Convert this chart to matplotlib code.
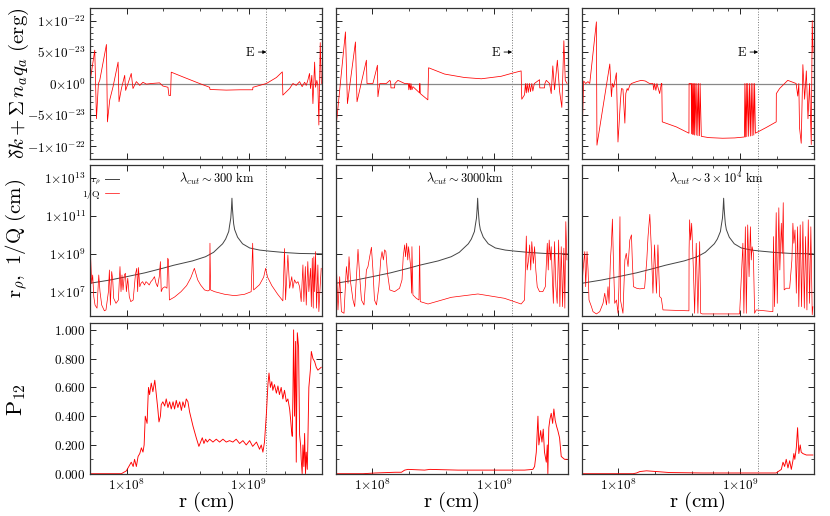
import numpy as np
import matplotlib
matplotlib.use('Agg')
import matplotlib.pyplot as plt
from matplotlib.ticker import FixedLocator, FixedFormatter, NullFormatter, NullLocator, MultipleLocator

plt.rcParams['mathtext.fontset'] = 'cm'
plt.rcParams['font.family'] = 'serif'
plt.rcParams['xtick.direction'] = 'in'
plt.rcParams['ytick.direction'] = 'in'
plt.rcParams['xtick.top'] = True
plt.rcParams['ytick.right'] = True

# ---- row 1 : dk + sum n q  (units of 1e-23 erg) ----
r_dk1 = [4.98e7, 5.47e7, 5.65e7, 5.86e7, 6.01e7, 6.82e7, 6.95e7, 7.26e7, 7.73e7, 8.50e7, 8.65e7, 9.05e7, 9.63e7, 9.80e7,
         1.025e8, 1.09e8, 1.126e8, 1.20e8, 1.28e8, 1.36e8, 1.45e8, 1.59e8, 1.86e8, 1.98e8, 2.18e8, 2.22e8, 2.29e8, 2.32e8,
         2.89e8, 3.96e8, 4.79e8, 4.82e8, 6.56e8, 8.5e8, 1.08e9, 1.085e9, 1.40e9, 1.69e9, 1.89e9, 1.91e9, 2.17e9, 2.31e9,
         2.46e9, 2.62e9, 2.75e9, 2.88e9, 2.97e9, 3.06e9, 3.16e9, 3.22e9, 3.30e9, 3.37e9, 3.48e9, 3.54e9, 3.63e9, 3.70e9,
         3.77e9, 3.87e9, 3.95e9]
dk1 = [0.0, 5.3, -5.6, 0.0, 0.5, 6.2, -6.1, -2.6, -0.5, 3.4, -2.9, -0.8, 1.3, -1.1,
       0.0, 1.6, -0.8, 0.3, -0.3, 0.2, -0.1, 0.0, 0.1, -0.4, -0.6, -1.9, -1.9, 1.8,
       1.05, 0.0, -0.6, -0.95, -1.05, -1.0, -1.0, -0.6, 0.0, 0.95, 1.85, -1.85, -0.8, 0.0,
       -0.3, 0.3, -0.5, 0.2, -0.3, 0.5, 1.6, -0.8, 1.3, -3.2, 3.4, -0.6, 0.5, -0.3,
       -6.6, 6.5, 0.0]

r_dk2 = [4.98e7, 5.07e7, 6.01e7, 6.24e7, 7.26e7, 7.48e7, 8.93e7, 9.03e7, 1.01e8, 1.10e8, 1.11e8, 1.15e8, 1.30e8, 1.39e8,
         1.41e8, 1.42e8, 1.52e8, 1.53e8, 1.62e8, 1.84e8, 1.97e8, 1.99e8, 2.01e8, 2.05e8, 2.07e8, 2.11e8, 2.15e8, 2.44e8,
         2.45e8, 2.47e8, 2.85e8, 2.89e8, 3.91e8, 5.70e8, 7.83e8, 1.14e9, 1.38e9, 1.66e9, 1.68e9, 1.77e9, 1.80e9, 1.83e9,
         1.86e9, 1.90e9, 1.94e9, 1.98e9, 2.03e9, 2.07e9, 2.13e9, 2.35e9, 2.36e9, 2.58e9, 2.60e9, 2.67e9, 2.84e9, 2.93e9,
         3.02e9, 3.12e9, 3.29e9, 3.43e9, 3.58e9, 3.72e9, 3.82e9, 3.95e9]
dk2 = [-5.0, -6.3, 8.2, -3.2, 6.6, -2.9, 3.7, 0.0, 0.0, 2.9, -2.1, 0.0, 0.0, 0.5,
       0.3, -0.7, -0.7, 0.0, 0.5, 0.0, 0.0, -1.0, 0.0, -1.0, 0.0, -1.0, -0.5, -1.5,
       0.0, -1.6, -2.6, 2.5, 1.5, 0.95, 0.75, 1.15, 1.6, 2.0, -2.5, -1.8, 0.0, -1.5,
       0.0, -1.4, 0.0, -1.3, 0.0, -1.2, 0.0, 0.6, -0.7, -0.7, 0.0, 0.5, 0.0, -1.6,
       2.8, -1.0, 3.7, -1.2, -3.8, 6.8, 0.5, 0.0]

r_dk3 = [4.98e7, 5.19e7, 5.39e7, 5.63e7, 5.82e7, 6.60e7, 6.67e7, 8.50e7, 8.77e7, 8.93e7, 9.15e7, 9.63e7, 9.92e7, 1.01e8,
         1.04e8, 1.06e8, 1.09e8, 1.13e8, 1.15e8, 1.18e8, 1.20e8, 1.24e8, 1.28e8, 1.41e8, 1.54e8, 1.66e8, 1.80e8, 1.92e8,
         1.95e8, 1.98e8, 2.03e8, 2.07e8, 2.18e8, 2.25e8, 2.27e8, 2.29e8, 2.99e8, 3.79e8, 3.80e8, 3.96e8, 3.98e8, 4.02e8,
         4.06e8, 4.10e8, 4.14e8, 4.18e8, 4.22e8, 4.26e8, 4.35e8, 4.40e8, 4.49e8, 4.53e8, 4.63e8, 4.68e8, 4.79e8, 5.5e8,
         7.16e8, 9.0e8, 1.08e9, 1.09e9, 1.10e9, 1.12e9, 1.13e9, 1.15e9, 1.17e9, 1.19e9, 1.21e9, 1.23e9, 1.25e9, 1.27e9,
         1.29e9, 1.31e9, 1.33e9, 1.63e9, 1.97e9, 1.975e9, 2.10e9, 2.45e9, 2.87e9, 2.96e9, 3.02e9, 3.06e9, 3.16e9, 3.26e9,
         3.37e9, 3.48e9, 3.59e9, 3.70e9, 3.82e9, 3.89e9, 3.95e9]
dk3 = [-11.6, 0.4, 0.0, 0.3, 0.0, 9.8, -9.8, 3.1, -2.1, 0.0, -0.6, 1.7, -9.3, -6.9,
       -2.6, -0.8, -0.9, -6.3, -1.6, -0.8, -1.1, -0.3, 0.0, 0.3, 0.5, 0.4, 0.0, 0.0,
       -1.0, 0.0, -1.1, 0.0, -1.6, 0.0, 0.0, -6.1, -6.9, -7.9, 0.0, 0.0, -8.0, 0.0,
       -8.1, 0.0, -8.1, 0.0, -8.2, 0.0, -8.2, 0.0, -8.3, 0.0, -8.3, 0.0, -8.4, -8.6,
       -8.7, -8.65, -8.5, 0.0, -8.5, 0.0, -8.45, 0.0, -8.4, 0.0, -8.35, 0.0, -8.3, 0.0,
       -8.2, 0.0, -7.9, -7.0, -6.1, -1.6, -0.8, 0.5, 0.0, -2.0, 0.0, -7.0, -9.5, 3.0,
       -2.5, 2.0, -5.6, 0.0, -9.7, 10.0, 5.0]

# ---- row 2 : r_rho (same in every column) and 1/Q ----
r_rho = [4.98e7, 7.26e7, 1.0e8, 1.41e8, 1.97e8, 2.43e8, 3.47e8, 4.43e8, 5.16e8, 5.67e8, 6.12e8, 6.48e8, 6.87e8, 6.98e8,
         7.14e8, 7.23e8, 7.30e8, 7.37e8, 7.47e8, 7.54e8, 7.68e8, 8.12e8, 8.92e8, 1.02e9, 1.23e9, 1.49e9, 1.97e9, 2.62e9,
         3.96e9]
rho = [2.95e7, 4.37e7, 6.6e7, 1.05e8, 1.82e8, 2.63e8, 4.47e8, 7.4e8, 1.26e9, 2.24e9, 3.55e9, 6.3e9, 1.58e10, 3.2e10,
       7.9e10, 2.5e11, 8.9e11, 2.5e11, 7.9e10, 4.0e10, 2.0e10, 7.9e9, 3.55e9, 2.14e9, 1.66e9, 1.45e9, 1.23e9, 1.1e9,
       1.05e9]

r_q1 = [4.98e7, 5.04e7, 5.16e7, 5.26e7, 5.37e7, 5.50e7, 5.71e7, 5.90e7, 6.04e7, 6.24e7,
        6.56e7, 6.76e7, 7.08e7, 7.21e7, 7.35e7, 7.53e7, 7.68e7, 7.82e7, 8.17e7, 8.55e7,
        8.81e7, 8.98e7, 9.15e7, 9.33e7, 9.57e7, 9.76e7, 9.94e7, 1.02e8, 1.05e8, 1.08e8,
        1.13e8, 1.18e8, 1.21e8, 1.23e8, 1.25e8, 1.28e8, 1.31e8, 1.35e8, 1.40e8, 1.44e8,
        1.49e8, 1.53e8, 1.58e8, 1.63e8, 1.69e8, 1.74e8, 1.79e8, 1.85e8, 1.89e8, 1.92e8,
        1.97e8, 2.06e8, 2.14e8, 2.17e8, 2.20e8, 2.24e8, 2.47e8, 2.79e8, 3.10e8, 3.35e8,
        3.59e8, 3.82e8, 4.04e8, 4.35e8, 4.64e8, 4.79e8, 4.82e8, 4.88e8, 5.26e8, 6.35e8,
        7.68e8, 9.27e8, 1.05e9, 1.08e9, 1.10e9, 1.23e9, 1.33e9, 1.38e9, 1.43e9, 1.55e9,
        1.73e9, 1.91e9, 1.97e9, 2.01e9, 2.10e9, 2.17e9, 2.26e9, 2.31e9, 2.38e9, 2.46e9,
        2.54e9, 2.62e9, 2.70e9, 2.79e9, 2.84e9, 2.92e9, 2.97e9, 3.06e9, 3.12e9, 3.22e9,
        3.27e9, 3.33e9, 3.39e9, 3.43e9, 3.48e9, 3.54e9, 3.61e9, 3.70e9, 3.77e9, 3.84e9,
        3.94e9]
q1 = [2.5e7, 1.38e9, 2.95e7, 8.1e7, 5.9e6, 2.1e6, 1.45e6, 8.1e7, 1.07e7, 2.1e6,
      1.05e6, 1.17e6, 1.07e7, 1.48e8, 2.1e6, 1.23e8, 4.5e7, 4.8e6, 2.6e6, 3.9e6,
      2.24e8, 1.07e7, 8.1e7, 1.32e7, 8.1e7, 1.0e8, 1.07e7, 5.5e7, 5.9e6, 3.2e6,
      3.9e6, 8.9e7, 1.82e8, 1.07e7, 2.0e8, 1.95e7, 2.95e7, 3.6e7, 2.4e7, 3.6e7,
      2.95e7, 2.4e7, 3.6e7, 4.5e7, 6.6e7, 2.95e7, 1.95e7, 6.6e7, 4.1e8, 1.07e7,
      1.62e7, 1.95e7, 1.62e7, 6.2e8, 5.0e8, 3.9e6, 5.6e6, 1.07e7, 2.24e7, 5.6e7,
      1.82e8, 4.5e7, 2.4e7, 1.32e7, 1.17e7, 1.32e7, 3.8e9, 1.32e7, 1.07e7, 7.8e6,
      6.6e6, 7.8e6, 1.07e7, 3.8e9, 1.32e7, 2.5e7, 6.3e7, 1.82e8, 6.3e7, 2.24e7,
      7.9e6, 3.5e6, 2.0e9, 4.0e6, 9.1e8, 1.62e7, 6.6e7, 1.62e7, 4.5e7, 2.95e7,
      3.6e7, 1.95e7, 3.2e6, 2.75e8, 3.2e6, 2.24e8, 2.1e6, 4.1e8, 1.07e7, 1.82e8,
      1.74e6, 6.2e8, 1.45e6, 7.4e8, 1.07e7, 1.38e9, 1.45e6, 2.75e8, 9.5e5, 1.07e7,
      1.82e8]

r_q2 = [4.98e7, 5.07e7, 5.22e7, 5.39e7, 5.57e7, 5.85e7, 6.12e7, 6.31e7, 6.43e7, 6.64e7,
        6.93e7, 7.16e7, 7.62e7, 7.87e7, 8.13e7, 8.53e7, 8.93e7, 9.20e7, 9.50e7, 9.82e7,
        1.01e8, 1.04e8, 1.08e8, 1.13e8, 1.17e8, 1.20e8, 1.23e8, 1.26e8, 1.29e8, 1.33e8,
        1.39e8, 1.52e8, 1.67e8, 1.75e8, 1.79e8, 1.84e8, 1.87e8, 1.91e8, 1.95e8, 1.98e8,
        2.02e8, 2.06e8, 2.10e8, 2.11e8, 2.15e8, 2.29e8, 2.41e8, 2.44e8, 2.47e8, 2.86e8,
        4.44e8, 7.34e8, 1.21e9, 1.66e9, 1.77e9, 1.83e9, 1.86e9, 1.91e9, 1.95e9, 1.99e9,
        2.03e9, 2.09e9, 2.14e9, 2.19e9, 2.25e9, 2.35e9, 2.50e9, 2.62e9, 2.72e9, 2.77e9,
        2.82e9, 2.88e9, 2.93e9, 2.99e9, 3.05e9, 3.12e9, 3.20e9, 3.28e9, 3.37e9, 3.45e9,
        3.54e9, 3.63e9, 3.72e9, 3.79e9, 3.86e9, 3.94e9]
q2 = [1.48e8, 2.24e8, 1.17e6, 6.6e7, 9.5e5, 7.8e5, 2.24e8, 2.95e7, 7.4e8, 2.95e7,
      3.9e6, 1.74e6, 1.82e9, 6.6e7, 3.9e6, 2.14e6, 1.48e8, 2.24e8, 7.4e8, 2.34e9,
      1.48e8, 3.9e6, 2.14e6, 1.95e7, 5.0e8, 1.38e9, 5.0e8, 1.7e9, 1.38e9, 1.0e8,
      1.32e7, 1.07e7, 1.62e7, 4.5e7, 7.4e8, 3.1e9, 7.4e8, 3.8e9, 5.0e8, 2.5e9,
      7.4e8, 2.24e8, 8.9e6, 2.5e9, 7.2e6, 4.8e6, 3.9e6, 2.75e9, 3.2e6, 2.4e6,
      5.4e6, 8.1e6, 4.8e6, 2.4e6, 3.9e6, 9.1e9, 1.48e8, 5.0e8, 3.1e9, 1.48e8,
      4.6e9, 3.3e8, 2.5e9, 1.48e8, 1.95e7, 1.07e7, 1.07e7, 1.95e7, 3.8e9, 1.48e8,
      5.6e9, 5.0e8, 2.5e9, 6.6e7, 2.6e6, 4.6e9, 1.95e7, 2.6e6, 5.6e9, 1.74e6,
      2.5e9, 1.74e6, 2.1e9, 1.45e6, 5.2e10, 5.0e8]

r_q3 = [4.98e7, 5.13e7, 5.30e7, 5.39e7, 5.53e7, 5.64e7, 5.74e7, 6.01e7, 6.19e7, 6.60e7,
        7.03e7, 7.48e7, 7.73e7, 7.98e7, 8.22e7, 8.38e7, 8.60e7, 8.77e7, 8.93e7, 9.10e7,
        9.33e7, 9.64e7, 9.93e7, 1.01e8, 1.03e8, 1.04e8, 1.09e8, 1.13e8, 1.16e8, 1.20e8,
        1.24e8, 1.28e8, 1.30e8, 1.33e8, 1.41e8, 1.50e8, 1.64e8, 1.71e8, 1.75e8, 1.81e8,
        1.86e8, 1.92e8, 1.98e8, 2.05e8, 2.11e8, 2.18e8, 2.25e8, 2.32e8, 3.79e8, 3.80e8,
        3.84e8, 3.91e8, 3.99e8, 4.06e8, 4.14e8, 4.22e8, 4.35e8, 4.49e8, 4.64e8, 4.73e8,
        4.88e8, 9.87e8, 1.05e9, 1.07e9, 1.10e9, 1.12e9, 1.15e9, 1.18e9, 1.21e9, 1.23e9,
        1.25e9, 1.28e9, 1.31e9, 1.35e9, 1.85e9, 1.87e9, 1.91e9, 1.97e9, 2.01e9, 2.07e9,
        2.11e9, 2.17e9, 2.21e9, 2.25e9, 2.29e9, 2.38e9, 2.54e9, 2.65e9, 2.70e9, 2.75e9,
        2.81e9, 2.88e9, 2.95e9, 3.02e9, 3.10e9, 3.18e9, 3.26e9, 3.35e9, 3.43e9, 3.52e9,
        3.61e9, 3.70e9, 3.79e9, 3.89e9, 3.94e9]
q3 = [8.9e6, 1.48e8, 1.38e9, 1.95e7, 1.38e9, 1.48e8, 3.9e6, 1.74e6, 9.5e5, 7.2e5,
      9.5e5, 2.6e6, 8.9e6, 2.14e6, 1.95e7, 2.6e6, 5.0e8, 3.8e9, 7.1e10, 5.0e8,
      2.6e6, 3.9e6, 7.8e5, 1.95e7, 9.5e10, 3.9e6, 7.8e5, 5.0e8, 1.12e9, 2.24e8,
      5.6e9, 1.05e10, 5.0e8, 1.95e7, 1.62e7, 1.5e7, 1.62e7, 5.0e8, 8.5e9, 1.26e11,
      2.5e9, 8.9e6, 3.1e9, 8.9e6, 3.1e9, 5.9e6, 4.8e6, 1.17e6, 1.05e6, 1.7e9,
      6.5e10, 5.6e9, 4.3e10, 2.5e9, 6.6e7, 7.8e5, 3.8e9, 7.8e5, 4.6e9, 7.8e5,
      7.2e5, 7.2e5, 3.8e9, 7.8e5, 2.8e10, 7.8e5, 3.5e10, 6.6e7, 2.8e10, 5.0e8,
      2.5e9, 1.12e9, 7.8e5, 1.17e6, 9.5e5, 8.5e9, 1.74e6, 1.55e11, 2.6e6, 2.8e11,
      1.48e8, 4.3e10, 1.12e9, 5.2e11, 1.32e7, 1.62e7, 1.62e7, 5.0e8, 4.3e10, 3.8e9,
      1.9e10, 8.9e6, 2.8e10, 1.74e6, 3.5e10, 1.74e6, 5.2e10, 1.45e6, 8.5e9, 1.17e6,
      6.5e10, 2.6e6, 2.8e10, 6.5e5, 1.74e6]

# ---- row 3 : P12 ----
r_p1 = [4.98e7, 9.05e7, 9.94e7, 1.09e8, 1.13e8, 1.16e8, 1.20e8, 1.24e8, 1.28e8, 1.32e8,
        1.36e8, 1.39e8, 1.42e8, 1.47e8, 1.50e8, 1.51e8, 1.54e8, 1.59e8, 1.64e8, 1.70e8,
        1.75e8, 1.80e8, 1.84e8, 1.89e8, 1.92e8, 1.98e8, 2.05e8, 2.11e8, 2.18e8, 2.25e8,
        2.32e8, 2.40e8, 2.47e8, 2.55e8, 2.63e8, 2.72e8, 2.81e8, 2.89e8, 2.99e8, 3.08e8,
        3.18e8, 3.28e8, 3.50e8, 3.72e8, 3.91e8, 4.04e8, 4.17e8, 4.30e8, 4.44e8, 4.58e8,
        4.79e8, 5.10e8, 5.43e8, 5.78e8, 6.16e8, 6.56e8, 6.98e8, 7.43e8, 7.91e8, 8.44e8,
        8.98e8, 9.56e8, 1.02e9, 1.08e9, 1.16e9, 1.23e9, 1.27e9, 1.31e9, 1.35e9, 1.40e9,
        1.44e9, 1.47e9, 1.51e9, 1.55e9, 1.58e9, 1.63e9, 1.69e9, 1.74e9, 1.79e9, 1.85e9,
        1.91e9, 1.97e9, 2.04e9, 2.10e9, 2.17e9, 2.21e9, 2.25e9, 2.28e9, 2.31e9, 2.34e9,
        2.38e9, 2.43e9, 2.46e9, 2.51e9, 2.57e9, 2.62e9, 2.67e9, 2.70e9, 2.75e9, 2.79e9,
        2.84e9, 2.88e9, 2.93e9, 2.97e9, 3.03e9, 3.06e9, 3.12e9, 3.21e9, 3.27e9, 3.37e9,
        3.48e9, 3.59e9, 3.70e9, 3.82e9, 3.94e9]
p1 = [0.0, 0.0, 0.02, 0.08, 0.05, 0.10, 0.05, 0.12, 0.14, 0.18,
      0.15, 0.20, 0.40, 0.35, 0.55, 0.60, 0.55, 0.63, 0.57, 0.65,
      0.55, 0.45, 0.36, 0.40, 0.48, 0.50, 0.47, 0.52, 0.46, 0.50,
      0.45, 0.50, 0.45, 0.51, 0.46, 0.50, 0.44, 0.50, 0.46, 0.52,
      0.50, 0.43, 0.33, 0.25, 0.19, 0.22, 0.25, 0.21, 0.24, 0.22,
      0.24, 0.22, 0.24, 0.22, 0.24, 0.22, 0.23, 0.22, 0.24, 0.21,
      0.23, 0.20, 0.23, 0.19, 0.22, 0.17, 0.20, 0.15, 0.22, 0.42,
      0.62, 0.70, 0.60, 0.64, 0.58, 0.62, 0.56, 0.61, 0.55, 0.60,
      0.52, 0.58, 0.50, 0.52, 0.45, 0.38, 0.30, 0.26, 0.55, 1.00,
      0.40, 0.92, 0.08, 0.98, 0.88, 0.27, 0.20, 0.10, 0.0, 0.20,
      0.05, 0.28, 0.0, 0.15, 0.03, 0.20, 0.60, 0.72, 0.85, 0.80,
      0.78, 0.74, 0.72, 0.73, 0.74]

r_p2 = [4.98e7, 8.38e7, 1.06e8, 1.54e8, 1.73e8, 1.84e8, 1.96e8, 2.68e8, 2.96e8, 5.03e8,
        1.38e9, 1.77e9, 2.07e9, 2.14e9, 2.21e9, 2.28e9, 2.32e9, 2.40e9, 2.46e9, 2.52e9,
        2.58e9, 2.67e9, 2.72e9, 2.75e9, 2.80e9, 2.86e9, 2.93e9, 3.01e9, 3.08e9, 3.16e9,
        3.24e9, 3.32e9, 3.43e9, 3.54e9, 3.65e9, 3.77e9, 3.94e9]
p2 = [0.0, 0.0, 0.005, 0.01, 0.01, 0.025, 0.03, 0.025, 0.03, 0.025,
      0.025, 0.025, 0.03, 0.05, 0.15, 0.40, 0.20, 0.30, 0.22, 0.31,
      0.15, 0.08, 0.20, 0.0, 0.32, 0.38, 0.42, 0.35, 0.45, 0.37,
      0.33, 0.30, 0.25, 0.12, 0.11, 0.10, 0.10]

r_p3 = [4.98e7, 1.32e8, 1.41e8, 1.50e8, 1.70e8, 2.05e8, 2.63e8, 4.94e8, 1.97e9, 2.17e9,
        2.24e9, 2.31e9, 2.38e9, 2.46e9, 2.54e9, 2.62e9, 2.70e9, 2.75e9, 2.80e9, 2.88e9,
        2.95e9, 3.02e9, 3.10e9, 3.16e9, 3.26e9, 3.48e9, 3.94e9]
p3 = [0.0, 0.0, 0.005, 0.015, 0.02, 0.015, 0.008, 0.005, 0.005, 0.03,
      0.08, 0.05, 0.10, 0.04, 0.09, 0.03, 0.09, 0.14, 0.10, 0.18,
      0.32, 0.14, 0.20, 0.15, 0.14, 0.13, 0.13]

lam_txt = [r'$\lambda_{cut} \sim 300\ \mathrm{km}$', r'$\lambda_{cut} \sim 3000\mathrm{km}$',
           r'$\lambda_{cut} \sim 3 \times 10^4\ \mathrm{km}$']
lam_x = [0.547, 0.557, 0.582]
r_E = 1.4e9   # dotted vertical line position

dk_r = [r_dk1, r_dk2, r_dk3]
dk_v = [dk1, dk2, dk3]
q_r = [r_q1, r_q2, r_q3]
q_v = [q1, q2, q3]
p_r = [r_p1, r_p2, r_p3]
p_v = [p1, p2, p3]

fig = plt.figure(figsize=(8.3, 5.16), dpi=100)
W, H = 830., 516.
lefts = [90, 335.7, 581.7]
tops = [8, 165, 322.7]
aw, ah = 232, 151

for i, t in enumerate(tops):
    for j, l in enumerate(lefts):
        ax = fig.add_axes([l / W, 1 - (t + ah) / H, aw / W, ah / H])
        ax.set_xscale('log')
        ax.set_xlim(5e7, 4e9)
        ax.xaxis.set_major_locator(FixedLocator([1e8, 1e9]))
        ax.xaxis.set_minor_locator(FixedLocator([2e8, 4e8, 6e8, 8e8, 2e9]))
        ax.xaxis.set_minor_formatter(NullFormatter())
        if i == 2:
            ax.xaxis.set_major_formatter(FixedFormatter([r'$1{\times}10^{8}$', r'$1{\times}10^{9}$']))
        else:
            ax.xaxis.set_major_formatter(NullFormatter())
        ax.axvline(r_E, color='#777777', ls=':', lw=0.7)

        if i == 0:
            ax.axhline(0, color='#888888', lw=0.9)
            ax.plot(dk_r[j], np.array(dk_v[j]) * 1e-23, color='red', lw=0.55)
            ax.set_ylim(-1.2e-22, 1.2e-22)
            ax.yaxis.set_major_locator(FixedLocator([-1e-22, -5e-23, 0, 5e-23, 1e-22]))
            ax.yaxis.set_minor_locator(MultipleLocator(1e-23))
            ax.annotate(r'$\mathrm{E}$', xy=(r_E, 5e-23), xytext=(1.14e9, 5e-23), ha='right', va='center',
                        fontsize=9, arrowprops=dict(arrowstyle='-|>', color='black', lw=0.6,
                                                     shrinkA=0, shrinkB=0, mutation_scale=5))
            ylabs = [r'$-1{\times}10^{-22}$', r'$-5{\times}10^{-23}$', r'$0{\times}10^{0}$',
                     r'$5{\times}10^{-23}$', r'$1{\times}10^{-22}$']
        elif i == 1:
            ax.set_yscale('log')
            ax.plot(r_rho, rho, color='#444444', lw=0.7, label=r'$\mathrm{r}_\rho$')
            ax.plot(q_r[j], q_v[j], color='red', lw=0.5, label=r'$1/\mathrm{Q}$')
            ax.set_ylim(5.6e5, 5e13)
            ax.yaxis.set_major_locator(FixedLocator([1e7, 1e9, 1e11, 1e13]))
            ax.yaxis.set_minor_locator(NullLocator())
            ax.text(lam_x[j], 0.91, lam_txt[j], transform=ax.transAxes, ha='center', va='center', fontsize=9)
            if j == 0:
                ax.legend(loc='upper left', bbox_to_anchor=(-0.035, 0.93), frameon=False, fontsize=7,
                          markerfirst=False, handlelength=1.4, labelspacing=0.05, handletextpad=0.5,
                          borderpad=0, borderaxespad=0)
            ylabs = [r'$1{\times}10^{7}$', r'$1{\times}10^{9}$', r'$1{\times}10^{11}$', r'$1{\times}10^{13}$']
        else:
            ax.plot(p_r[j], p_v[j], color='red', lw=0.65)
            ax.set_ylim(0, 1.05)
            ax.yaxis.set_major_locator(FixedLocator([0, 0.2, 0.4, 0.6, 0.8, 1.0]))
            ax.yaxis.set_minor_locator(MultipleLocator(0.1))
            ylabs = [r'$0.000$', r'$0.200$', r'$0.400$', r'$0.600$', r'$0.800$', r'$1.000$']
            ax.text(0.5, -0.19, r'$\mathrm{r\ (cm)}$', transform=ax.transAxes, ha='center', va='center', fontsize=15)

        if j == 0:
            ax.yaxis.set_major_formatter(FixedFormatter(ylabs))
        else:
            ax.yaxis.set_major_formatter(NullFormatter())
        ax.tick_params(which='major', length=4, width=0.6, labelsize=9.5, pad=3)
        ax.tick_params(which='minor', length=2, width=0.5)
        for s in ax.spines.values():
            s.set_linewidth(0.9)
            s.set_color('#333333')

fig.text(19 / W, 1 - 83 / H, r'$\delta\check{k} + \Sigma\, n_a q_a\ (\mathrm{erg})$', rotation=90,
         ha='center', va='center', fontsize=15)
fig.text(17 / W, 1 - 238 / H, r'$\mathrm{r}_\rho,\ 1/\mathrm{Q}\ (\mathrm{cm})$', rotation=90,
         ha='center', va='center', fontsize=15)
fig.text(17 / W, 1 - 400 / H, r'$\mathrm{P}_{12}$', rotation=90, ha='center', va='center', fontsize=16)

plt.savefig('out.png', dpi=100)
